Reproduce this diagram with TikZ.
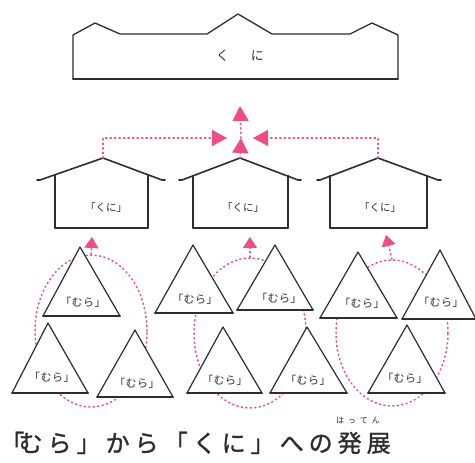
\documentclass[tikz,border=0pt]{standalone}
\usepackage{fontspec}
\newfontfamily\jp{Noto Sans CJK JP}
\newfontfamily\jpb[FakeBold=1.2]{Noto Sans CJK JP}
\usetikzlibrary{arrows.meta,shapes.geometric}
\definecolor{pinkc}{RGB}{238,78,132}
\definecolor{inkc}{RGB}{45,45,45}
\newdimen\cjkboxw
\def\cjksp#1{\ifx#1\relax\else\makebox[\cjkboxw][c]{#1}\expandafter\cjksp\fi}
\newcommand\jpspread[2]{{\cjkboxw=#1\relax\cjksp#2\relax}}
\tikzset{
  outline/.style={draw=inkc, line width=1.2pt, line join=round, line cap=round},
  baseline/.style={draw=inkc, line width=1.9pt, line cap=round},
  roofline/.style={draw=inkc, line width=1.6pt, line join=round, line cap=round},
  pinkdot/.style={draw=pinkc, line width=1.5pt, dash pattern=on 1.2pt off 3.3pt, line cap=round},
  bigtip/.style={-{Triangle[width=16pt,length=15pt,fill=pinkc]}},
  smalltip/.style={-{Triangle[width=14pt,length=11pt,fill=pinkc]}},
  group/.style={ellipse, pinkdot, inner sep=0, minimum width=112pt},
  muratxt/.style={font=\jp\fontsize{11}{11}\selectfont, text=inkc, inner sep=0},
  kunitxt/.style={font=\jp\fontsize{10.5}{10.5}\selectfont, text=inkc, inner sep=0},
}
\newcommand\mura[7]{% name, apex x, apex y, base y, base left x, base right x, (text x,text y)
  \filldraw[fill=white, outline] (#2,#3) -- (#5,#4) -- (#6,#4) -- cycle;
  \draw[baseline] (#5,#4) -- (#6,#4);
  \node[muratxt] (#1) at (#7) {\jpspread{11.5pt}{「むら」}};
}
\begin{document}
\begin{tikzpicture}[x=1pt,y=-1pt]
\useasboundingbox[fill=white] (0,0) rectangle (475,463);

% top: kuni
\draw[outline, line width=1.3pt] (73,79) -- (73,35) -- (95,23) -- (120,34) -- (207,34) -- (238,14)
  -- (272,34) -- (350,34) -- (372,23) -- (398,35) -- (398,79);
\draw[baseline] (73,79) -- (398,79);
\node[font=\jp\fontsize{13}{13}\selectfont, text=inkc, inner sep=0] (kuni) at (240,56) {\jpspread{35pt}{くに}};

% dotted groups
\node[group, minimum height=152pt] (g1) at (91,331) {};
\node[group, minimum height=150pt] (g2) at (250,333) {};
\node[group, minimum height=146pt] (g3) at (392,333) {};

% houses
\foreach \le/\pk/\re/\lw/\rw/\n in {40/103/162/55/148/1, 182/240/298/193/288/2, 320/378/438/330/427/3}{
  \draw[outline] (\lw,175.5) -- (\lw,228);
  \draw[outline] (\rw,175.5) -- (\rw,228);
  \draw[baseline] (\lw,228) -- (\rw,228);
  \draw[roofline] (\le-3,180) -- (\le,180) -- (\pk,158) -- (\re,180) -- (\re+3,180);
  \coordinate (r\n) at (\pk,158);
}
\node[kunitxt] (h1) at (106,208) {\jpspread{10.5pt}{「くに」}};
\node[kunitxt] (h2) at (243,208) {\jpspread{10.5pt}{「くに」}};
\node[kunitxt] (h3) at (380,208) {\jpspread{10.5pt}{「くに」}};

% villages
\mura{mA}{80}{247}{316}{43}{120}{83,302}
\mura{mB}{48}{323}{393}{12}{88}{52,377}
\mura{mC}{135}{330}{397}{97}{173}{137,383}
\mura{mD}{193}{245}{313}{155}{233}{195,299}
\mura{mG}{223}{327}{393}{187}{262}{225,380}
\mura{mE}{275}{245}{310}{237}{313}{279,298}
\mura{mF}{307}{327}{393}{270}{347}{308,380}
\mura{mH}{358}{252}{318}{320}{397}{362,303}
\mura{mI}{440}{250}{319}{402}{476}{441,302}
\mura{mJ}{407}{325}{393}{368}{445}{405,378}

% arrows from groups to houses
\coordinate (t1) at (92,237);
\coordinate (t2) at (250,237);
\coordinate (t3) at (386,235);
\draw[pinkdot, smalltip] (g1.north) -- (t1);
\draw[pinkdot, smalltip] (g2.north) -- (t2);
\draw[pinkdot, smalltip] (g3.north) -- (t3);

% arrows from houses to kuni
\coordinate (ta) at (227,138);
\coordinate (tb) at (253,138);
\coordinate (tc) at (241,138);
\coordinate (td) at (240,106);
\draw[pinkdot, bigtip] (r1) |- (ta);
\draw[pinkdot, bigtip] (r3) |- (tb);
\draw[pinkdot, bigtip] (r2) -- (tc);
\draw[pinkdot, bigtip] (tc) -- (td);

% caption
\node[font=\jpb\fontsize{24}{24}\selectfont, text=inkc, inner sep=0, anchor=base west] (cap) at (0,452)
  {\makebox[16pt][l]{「}{\cjkboxw=29pt\relax\cjksp むら」から「くに」への発展\relax}};
\node[font=\jp\fontsize{8}{8}\selectfont, text=inkc, inner sep=0] (ruby) at (358,421) {\jpspread{12pt}{はってん}};
\end{tikzpicture}
\end{document}
